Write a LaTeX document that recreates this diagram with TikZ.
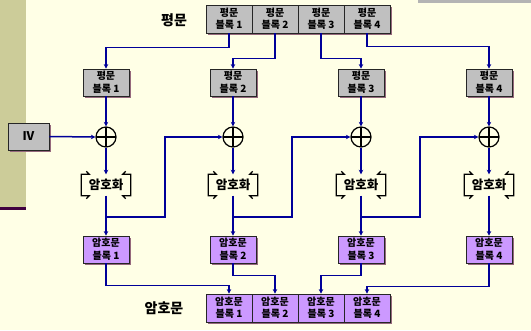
\documentclass[tikz,border=0pt]{standalone}
\usepackage{fontspec}
\setmainfont{Noto Sans CJK KR}
\usetikzlibrary{arrows.meta,shadows,calc}
\definecolor{bgc}{RGB}{255,255,230}
\definecolor{barc}{RGB}{204,204,153}
\definecolor{barline}{RGB}{64,0,64}
\definecolor{connc}{RGB}{0,0,153}
\definecolor{plainc}{RGB}{192,192,192}
\definecolor{ciphc}{RGB}{204,153,255}
\definecolor{shadc}{RGB}{150,105,125}
\definecolor{stripc}{RGB}{180,180,180}
\begin{document}
\begin{tikzpicture}[x=1pt,y=-1pt,
  blk/.style={draw=black!85, line width=0.8pt, minimum width=46pt, minimum height=27pt,
    inner sep=0pt, align=center, font=\bfseries\fontsize{10}{13.5}\selectfont,
    drop shadow={shadow xshift=2pt, shadow yshift=-2pt, fill=shadc, opacity=1}},
  rowblk/.style={blk, minimum height=28pt, font=\bfseries\fontsize{10}{12.5}\selectfont},
  plainbox/.style={fill=plainc},
  cipherbox/.style={fill=ciphc},
  xorop/.style={circle, draw=black, line width=1.2pt, minimum size=20pt, inner sep=0pt,
    path picture={\draw[black,line width=1.2pt] (path picture bounding box.north) -- (path picture bounding box.south)
      (path picture bounding box.west) -- (path picture bounding box.east);}},
  encbox/.style={minimum width=49pt, minimum height=21pt, inner sep=0pt, font=\bfseries\fontsize{12.5}{12.5}\selectfont},
  brk/.style={draw=black, line width=1.2pt},
  conn/.style={draw=connc, line width=1.5pt},
  arr/.style={conn, -{Stealth[length=4.5pt,width=4.5pt]}},
  lbl/.style={font=\bfseries\fontsize{14}{14}\selectfont, inner sep=0pt}
]
\useasboundingbox (0,0) rectangle (531,330);
\fill[bgc] (0,0) rectangle (531,330);
\fill[barc] (0,0) rectangle (26,207);
\fill[barline] (0,207) rectangle (26,210);
\fill[stripc] (418,0) rectangle (531,3);

% labels
\node[lbl] (lp) at (174,20) {평문};
\node[lbl] (lc) at (164,308) {암호문};

% top row
\node[rowblk,plainbox] (t1) at (229,19) {평문\\블록 1};
\node[rowblk,plainbox] (t2) at (275,19) {평문\\블록 2};
\node[rowblk,plainbox] (t3) at (321,19) {평문\\블록 3};
\node[rowblk,plainbox] (t4) at (367,19) {평문\\블록 4};

% plaintext blocks
\node[blk,plainbox] (p1) at (106,82.5) {평문\\블록 1};
\node[blk,plainbox] (p2) at (233,82.5) {평문\\블록 2};
\node[blk,plainbox] (p3) at (361,82.5) {평문\\블록 3};
\node[blk,plainbox] (p4) at (489,82.5) {평문\\블록 4};

% IV
\node[blk,plainbox,minimum width=41pt,font=\bfseries\fontsize{12}{12}\selectfont] (iv) at (28.5,136.5) {IV};

% XOR
\node[xorop] (x1) at (106,137) {};
\node[xorop] (x2) at (233,137) {};
\node[xorop] (x3) at (361,137) {};
\node[xorop] (x4) at (489,137) {};

% encryption
\node[encbox] (e1) at (106,185) {암호화};
\node[encbox] (e2) at (233,185) {암호화};
\node[encbox] (e3) at (361,185) {암호화};
\node[encbox] (e4) at (489,185) {암호화};
\foreach \i in {1,...,4}{
  \draw[brk] ($(e\i.north west)+(5,-3)$) -- ($(e\i.north west)+(8,0)$) -- (e\i.north west)
    -- (e\i.south west) -- ($(e\i.south west)+(8,0)$) -- ($(e\i.south west)+(5,3)$);
  \draw[brk] ($(e\i.north east)+(-5,-3)$) -- ($(e\i.north east)+(-8,0)$) -- (e\i.north east)
    -- (e\i.south east) -- ($(e\i.south east)+(-8,0)$) -- ($(e\i.south east)+(-5,3)$);
}

% ciphertext blocks
\node[blk,cipherbox] (c1) at (106,249.5) {암호문\\블록 1};
\node[blk,cipherbox] (c2) at (233,249.5) {암호문\\블록 2};
\node[blk,cipherbox] (c3) at (361,249.5) {암호문\\블록 3};
\node[blk,cipherbox] (c4) at (489,249.5) {암호문\\블록 4};

% bottom row
\node[rowblk,cipherbox] (b1) at (229,308) {암호문\\블록 1};
\node[rowblk,cipherbox] (b2) at (275,308) {암호문\\블록 2};
\node[rowblk,cipherbox] (b3) at (321,308) {암호문\\블록 3};
\node[rowblk,cipherbox] (b4) at (367,308) {암호문\\블록 4};

% junction coordinates
\coordinate (j1) at (106,217);
\coordinate (j2) at (233,217);
\coordinate (j3) at (361,217);

% connectors top
\draw[arr] (t1.south) -- ++(0,14) -| (p1.north);
\draw[arr] (t2.south) -- ++(0,25) -| (p2.north);
\draw[arr] (t3.south) -- ++(0,25) -| (p3.north);
\draw[arr] (t4.south) -- ++(0,13) -| (p4.north);

\foreach \i in {1,...,4}{
  \draw[arr] (p\i.south) -- (x\i.north);
  \draw[arr] (x\i.south) -- (e\i.north);
  \draw[arr] (e\i.south) -- (c\i.north);
}
\draw[arr] (iv.east) -- (x1.west);

% chaining
\draw[arr] (j1) -- ++(59,0) |- (x2.west);
\draw[arr] (j2) -- ++(59,0) |- (x3.west);
\draw[arr] (j3) -- ++(59,0) |- (x4.west);

% connectors bottom
\draw[arr] (c1.south) -- ++(0,22) -| (b1.north);
\draw[arr] (c2.south) -- ++(0,12) -| (b2.north);
\draw[arr] (c3.south) -- ++(0,12) -| (b3.north);
\draw[arr] (c4.south) -- ++(0,23) -| (b4.north);
\end{tikzpicture}
\end{document}
